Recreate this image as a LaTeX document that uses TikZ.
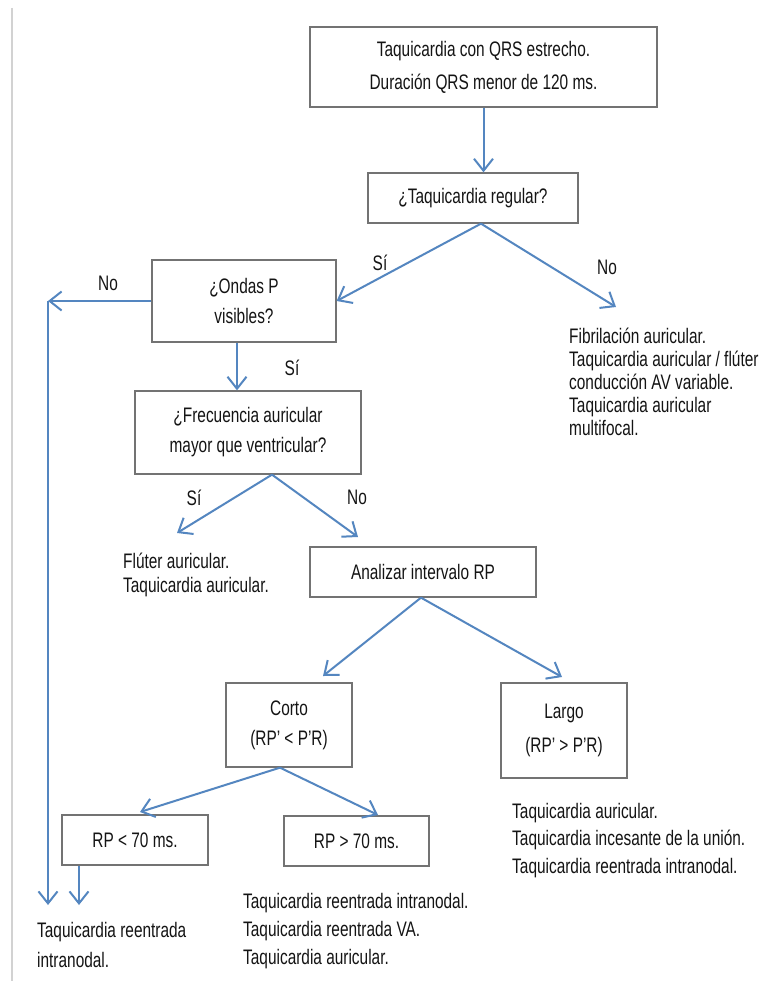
\documentclass[tikz,border=0pt]{standalone}
\usepackage{fontspec}
\setmainfont[FakeStretch=0.734]{Liberation Sans}
\usetikzlibrary{arrows.meta,calc}
\definecolor{linkblue}{RGB}{84,134,192}
\definecolor{boxgray}{RGB}{115,115,115}
\definecolor{ink}{RGB}{20,20,20}
\begin{document}
\begin{tikzpicture}[x=1pt,y=-1pt,
  every node/.style={text=ink},
  box/.style={draw=boxgray, line width=1.3pt, fill=white, inner sep=0pt, align=center,
    font=\fontsize{21}{30}\selectfont},
  arr/.style={draw=linkblue, line width=2pt,
    -{Straight Barb[length=12pt,width=19pt,line width=2pt]}},
  lbl/.style={font=\fontsize{21}{25}\selectfont, inner sep=0pt},
  result/.style={font=\fontsize{21}{28}\selectfont, align=left, anchor=base west, inner sep=0pt}]
  % page frame and faint rule on the left
  \useasboundingbox (0,0) rectangle (759,981);
  \fill[white] (0,0) rectangle (759,981);
  \draw[gray!35, line width=1.5pt] (12,8) -- (12,981);

  % decision boxes
  \node[box, minimum width=347pt, minimum height=80pt, font=\fontsize{21}{33}\selectfont]
    (top) at (483.5,67) {Taquicardia con QRS estrecho.\\Duración QRS menor de 120 ms.};
  \node[box, minimum width=210pt, minimum height=50pt] (reg) at (473,198) {¿Taquicardia regular?};
  \node[box, minimum width=184pt, minimum height=82pt] (ondas) at (244,301) {¿Ondas P\\visibles?};
  \node[box, minimum width=226pt, minimum height=83pt] (frec) at (248,432.5)
    {¿Frecuencia auricular\\mayor que ventricular?};
  \node[box, minimum width=226pt, minimum height=50pt] (anal) at (423,572) {Analizar intervalo RP};
  \node[box, minimum width=126pt, minimum height=84pt] (corto) at (289,725) {Corto\\(RP' < P'R)};
  \node[box, minimum width=126pt, minimum height=95pt, font=\fontsize{21}{34}\selectfont]
    (largo) at (564,730.5) {Largo\\(RP' > P'R)};
  \node[box, minimum width=146pt, minimum height=50pt] (rpa) at (135,840) {RP < 70 ms.};
  \node[box, minimum width=145pt, minimum height=50pt] (rpb) at (356.5,841) {RP > 70 ms.};

  % outcome texts (anchored at the baseline of their last line)
  \begin{scope}
    \clip (0,0) rectangle (759,981);
    \node[result, font=\fontsize{21}{23}\selectfont] (fib) at (569,435)
      {Fibrilación auricular.\\Taquicardia auricular / flúter\\conducción AV variable.\\Taquicardia auricular\\multifocal.};
  \end{scope}
  \node[result, font=\fontsize{21}{24}\selectfont] (flu) at (123,592)
    {Flúter auricular.\\Taquicardia auricular.};
  \node[result, font=\fontsize{21}{27.5}\selectfont] (lres) at (512,873)
    {Taquicardia auricular.\\Taquicardia incesante de la unión.\\Taquicardia reentrada intranodal.};
  \node[result, font=\fontsize{21}{28}\selectfont] (cres) at (243,964)
    {Taquicardia reentrada intranodal.\\Taquicardia reentrada VA.\\Taquicardia auricular.};
  \node[result, font=\fontsize{21}{30}\selectfont] (ares) at (37,967)
    {Taquicardia reentrada\\intranodal.};

  % branch labels
  \node[lbl] (siA) at (380,263) {Sí};
  \node[lbl] (noA) at (607,267) {No};
  \node[lbl] (noB) at (108,283) {No};
  \node[lbl] (siB) at (292,368) {Sí};
  \node[lbl] (siC) at (194,498) {Sí};
  \node[lbl] (noC) at (357,497) {No};

  % connector end points
  \coordinate (rsplit) at ($(reg.south)+(8,0)$);
  \coordinate (fibtip) at (616,307);
  \coordinate (lcorner) at (48,301);
  \coordinate (lbottom) at (48,905);
  \coordinate (osrc) at ($(ondas.south)+(-7,0)$);
  \coordinate (fsplit) at ($(frec.south)+(24,0)$);
  \coordinate (flutip) at (177,533);
  \coordinate (analtip) at (358,537);
  \coordinate (asplit) at ($(anal.south)+(-2,0)$);
  \coordinate (cortotip) at (323,676);
  \coordinate (largotip) at (562,677);
  \coordinate (csplit) at ($(corto.south)+(-9,0)$);
  \coordinate (rpatip) at (140,812);
  \coordinate (rpbtip) at (378,815);
  \coordinate (rpasrc) at ($(rpa.south)+(-56,0)$);
  \coordinate (rpatip2) at (79,905);

  % connectors
  \draw[arr] (top.south) -- (top.south |- reg.north);
  \draw[arr] (rsplit) -- (ondas.east);
  \draw[arr] (rsplit) -- (fibtip);
  \draw[arr] (ondas.west) -- (lcorner);
  \draw[arr] (lcorner) -- (lbottom);
  \draw[arr] (osrc) -- (osrc |- frec.north);
  \draw[arr] (fsplit) -- (flutip);
  \draw[arr] (fsplit) -- (analtip);
  \draw[arr] (asplit) -- (cortotip);
  \draw[arr] (asplit) -- (largotip);
  \draw[arr] (csplit) -- (rpatip);
  \draw[arr] (csplit) -- (rpbtip);
  \draw[arr] (rpasrc) -- (rpatip2);
\end{tikzpicture}
\end{document}
